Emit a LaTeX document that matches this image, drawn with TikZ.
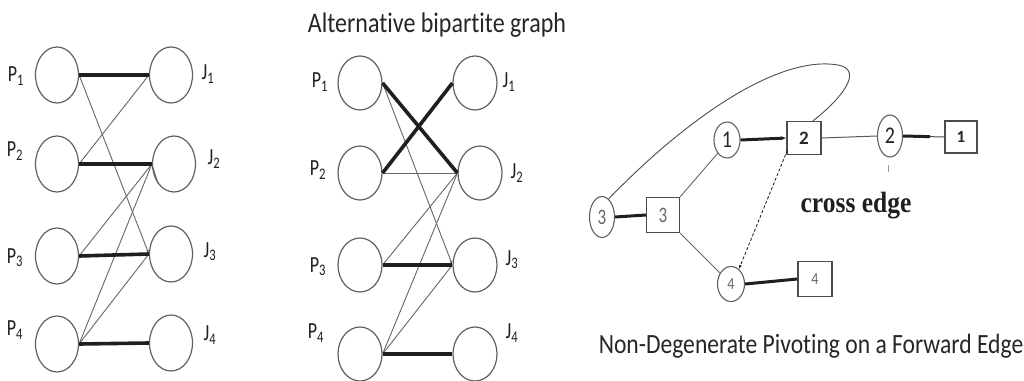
\documentclass[tikz,border=0pt]{standalone}
\usepackage{graphicx}
\usepackage{fontspec}
\setmainfont{Carlito}[Ligatures=NoCommon]
\newfontfamily\serifface{Liberation Serif}
\usetikzlibrary{shapes.geometric,arrows.meta,calc}
\newcommand{\vstretch}[2][1.28]{\scalebox{1}[#1]{#2}}
\begin{document}
\begin{tikzpicture}[x=1pt,y=-1pt,
  lc/.style={ellipse,draw=black!62,line width=1.2pt,minimum width=43pt,minimum height=56pt,inner sep=0pt},
  mc/.style={ellipse,draw=black!62,line width=1.2pt,minimum width=44pt,minimum height=54pt,inner sep=0pt},
  lbl/.style={font=\fontsize{18}{18}\selectfont,text=black!88,inner sep=0pt},
  heavy/.style={draw=black!88,line width=3.6pt},
  light/.style={draw=black!60,line width=0.9pt},
  tip/.style={-{Latex[length=4pt,width=3pt]}},
  rc/.style={ellipse,draw=black!62,line width=1.1pt,inner sep=0pt},
  rb/.style={rectangle,draw=black!70,line width=1.1pt,inner sep=0pt},
  capt/.style={font=\fontsize{23.6}{24}\selectfont,text=black!85,inner sep=0pt,anchor=base}
]
\useasboundingbox (0,0) rectangle (1024,380);
\fill[white] (0,0) rectangle (1024,380);

% ---------- left bipartite graph ----------
\node[lc] (LP1) at (57,75) {};
\node[lc] (LP2) at (57,164) {};
\node[lc] (LP3) at (57,256) {};
\node[lc] (LP4) at (57,344) {};
\node[lc] (LJ1) at (171,75) {};
\node[lc] (LJ2) at (174,164) {};
\node[lc] (LJ3) at (171,254) {};
\node[lc] (LJ4) at (171,343) {};

\node[lbl] (lp1) at (16,76) {\vstretch{P\textsubscript{1}}};
\node[lbl] (lp2) at (15,151) {\vstretch{P\textsubscript{2}}};
\node[lbl] (lp3) at (15,258) {\vstretch{P\textsubscript{3}}};
\node[lbl] (lp4) at (15,330) {\vstretch{P\textsubscript{4}}};
\node[lbl] (lj1) at (208,74) {\vstretch{J\textsubscript{1}}};
\node[lbl] (lj2) at (214,159) {\vstretch{J\textsubscript{2}}};
\node[lbl] (lj3) at (210,252) {\vstretch{J\textsubscript{3}}};
\node[lbl] (lj4) at (210,335) {\vstretch{J\textsubscript{4}}};

\draw[light,tip] (LP1.east) -- (LJ3.west);
\draw[light] (LP2.east) -- (LJ1.west);
\draw[light] (LP3.east) -- (LJ2.west);
\draw[light] (LP4.east) -- (LJ2.west);
\draw[light] (LP4.east) -- (LJ3.west);
\draw[light] (LJ2.west) -- (LJ2.232);
\draw[heavy] (LP1.east) -- (LJ1.west);
\draw[heavy] (LP2.east) -- (LJ2.west);
\draw[heavy] (LP3.east) -- (LJ3.west);
\draw[heavy] (LP4.east) -- (LJ4.west);

% ---------- middle bipartite graph ----------
\node[font=\fontsize{24}{24}\selectfont,text=black!85,inner sep=0pt,anchor=base] (title) at (437,32) {\vstretch[1.18]{Alternative bipartite graph}};

\node[mc] (MP1) at (360,83) {};
\node[mc] (MP2) at (360,173) {};
\node[mc] (MP3) at (360,265) {};
\node[mc] (MP4) at (360,354) {};
\node[mc] (MJ1) at (475,83) {};
\node[mc] (MJ2) at (480,173) {};
\node[mc] (MJ3) at (475,265) {};
\node[mc] (MJ4) at (475,354) {};

\node[lbl] (mp1) at (320,82) {\vstretch{P\textsubscript{1}}};
\node[lbl] (mp2) at (318,170) {\vstretch{P\textsubscript{2}}};
\node[lbl] (mp3) at (318,267) {\vstretch{P\textsubscript{3}}};
\node[lbl] (mp4) at (316,333) {\vstretch{P\textsubscript{4}}};
\node[lbl] (mj1) at (509,82) {\vstretch{J\textsubscript{1}}};
\node[lbl] (mj2) at (517,173) {\vstretch{J\textsubscript{2}}};
\node[lbl] (mj3) at (512,260) {\vstretch{J\textsubscript{3}}};
\node[lbl] (mj4) at (512,333) {\vstretch{J\textsubscript{4}}};

\draw[light,tip] (MP1.east) -- (MJ3.west);
\draw[light] (MP2.east) -- (MJ2.west);
\draw[light] (MP3.east) -- (MJ2.west);
\draw[light] (MP4.east) -- (MJ2.west);
\draw[light] (MP4.east) -- (MJ3.west);
\draw[heavy] (MP1.east) -- (MJ2.west);
\draw[heavy] (MP2.east) -- (MJ1.west);
\draw[heavy] (MP3.east) -- (MJ3.west);
\draw[heavy] (MP4.east) -- (MJ4.west);

% ---------- right graph ----------
\node[rc,minimum width=26pt,minimum height=36pt,font=\fontsize{20}{20}\selectfont,text=black!85] (C1) at (727,140) {\vstretch[1.2]{1}};
\node[rb,minimum width=34pt,minimum height=33pt,font=\bfseries\fontsize{19}{19}\selectfont,text=black!85] (B2) at (804,138) {2};
\node[rc,minimum width=25pt,minimum height=42pt,font=\fontsize{20}{20}\selectfont,text=black!85] (C2) at (890,136) {\vstretch[1.2]{2}};
\node[rb,minimum width=32pt,minimum height=32pt,font=\bfseries\fontsize{17}{17}\selectfont,text=black!85] (B1) at (961,137) {1};
\node[rc,minimum width=25pt,minimum height=41pt,font=\fontsize{17}{17}\selectfont,text=black!60] (C3) at (602,217) {\vstretch[1.3]{3}};
\node[rb,minimum width=33pt,minimum height=35pt,font=\fontsize{17}{17}\selectfont,text=black!60] (B3) at (663,215) {\vstretch[1.3]{3}};
\node[rc,minimum width=27pt,minimum height=35pt,font=\fontsize{14}{14}\selectfont,text=black!60] (C4) at (731,284) {\vstretch[1.2]{4}};
\node[rb,minimum width=34pt,minimum height=35pt,font=\fontsize{14}{14}\selectfont,text=black!60] (B4) at (815,279) {\vstretch[1.2]{4}};

\coordinate (B2top) at ($(B2.north)!0.5!(B2.north east)$);
\draw[black!70,line width=0.9pt] (C3.70) .. controls (690,115) and (780,55) .. (838,65)
  .. controls (865,70) and (840,100) .. (B2top);
\draw[heavy,line width=3pt,-{Latex[length=5pt,width=4pt]}] (C1.east) -- (B2.west);
\draw[black!65,line width=1pt] (B2.east) -- (C2.west);
\draw[black!70,line width=1pt] (C2.east) -- (B1.west);
\coordinate (C2mid) at ($(C2.east)!0.65!(B1.west)$);
\draw[heavy,line width=3pt] (C2.east) -- (C2mid);
\draw[heavy,line width=3pt] (C3.east) -- (B3.west);
\draw[light] (B3.north east) -- (C1.235);
\draw[light] (B3.south east) -- (C4.135);
\draw[black!90,line width=0.8pt,dashed,dash pattern=on 3pt off 2pt,-{Latex[length=4pt,width=3pt]}] ($(B2.south west)+(1,-5)$) -- (C4.62);
\draw[heavy,line width=3pt] (C4.east) -- (B4.west);
\draw[black!40,line width=0.6pt] (888,165) -- (888,172);

\node[font=\serifface\bfseries\fontsize{25.5}{26}\selectfont,text=black!88,inner sep=0pt,anchor=base] (cross) at (856,212) {\vstretch[1.15]{cross edge}};

\node[capt] (caption) at (811,353) {\vstretch[1.18]{Non-Degenerate Pivoting on a Forward Edge}};
\end{tikzpicture}
\end{document}
